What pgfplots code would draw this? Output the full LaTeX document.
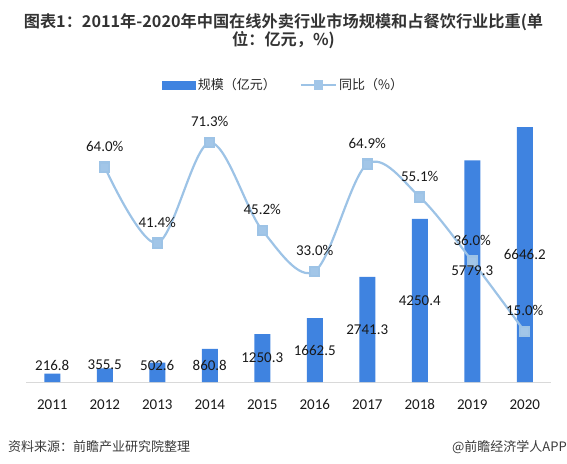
\documentclass[border=0pt]{standalone}
\usepackage{pgfplots}
\pgfplotsset{compat=1.18}
\usepackage{fontspec}
\setmainfont{Carlito}
\newfontfamily\cjk{Noto Sans CJK SC}[BoldFont={Noto Sans CJK SC Bold}]
\definecolor{barblue}{HTML}{3F83E0}
\definecolor{lineblue}{HTML}{9DC3E6}
\definecolor{markblue}{HTML}{A2C6E8}
\definecolor{titlegray}{HTML}{333333}
\definecolor{footgray}{HTML}{3A3A3A}
\definecolor{axisgray}{HTML}{D9D9D9}

\pgfplotstableread{
x y lab labpos
0 216.8 216.8 443
1 355.5 355.5 443
2 502.6 502.6 443
3 860.8 860.8 443
4 1250.3 1250.3 625
5 1662.5 1662.5 831
6 2741.3 2741.3 1370
7 4250.4 4250.4 2125
8 5779.3 5779.3 2890
9 6646.2 6646.2 3323
}\scaletable

\pgfplotstableread{
x y
1 64.0
2 41.4
3 71.3
4 45.2
5 33.0
6 64.9
7 55.1
8 36.0
9 15.0
}\growthtable

\begin{document}
\begin{tikzpicture}
\useasboundingbox (0,0) rectangle (567pt,463pt);

\begin{axis}[
  at={(26pt,81pt)}, anchor=south west, scale only axis,
  width=525pt, height=282pt,
  xmin=-0.5, xmax=9.5, ymin=0, ymax=7350,
  enlarge x limits=false,
  axis x line*=bottom, axis y line=none,
  x axis line style={draw=axisgray, line width=1pt, -},
  xtick={0,1,2,3,4,5,6,7,8,9},
  xticklabels={2011,2012,2013,2014,2015,2016,2017,2018,2019,2020},
  xtick style={draw=none},
  xticklabel style={font=\fontsize{15}{15}\selectfont, text=black!90, anchor=base, yshift=-27pt},
  ytick=\empty,
  /pgf/number format/assume math mode=true,
  clip=false,
]
\addplot[ybar, bar width=16pt, fill=barblue, draw=none] table[x=x, y=y] {\scaletable};
\end{axis}

\begin{axis}[
  at={(26pt,81pt)}, anchor=south west, scale only axis,
  width=525pt, height=282pt,
  xmin=-0.5, xmax=9.5, ymin=0, ymax=84,
  axis lines=none, clip=false,
  /pgf/number format/assume math mode=true,
  legend style={at={(0.491,1.053)}, anchor=center, draw=none, fill=none,
    legend columns=2, font=\cjk\fontsize{13}{13}\selectfont, text=black!85,
    /tikz/every even column/.append style={column sep=22pt}},
]
\addlegendimage{legend image code/.code={\fill[barblue] (0pt,-4pt) rectangle (33pt,4pt);}}
\addlegendentry{规模（亿元）}
\addplot[lineblue, line width=2.2pt, smooth, tension=0.55,
  mark=square*, mark size=4.6pt, mark options={fill=markblue, draw=none},
  nodes near coords={\pgfmathprintnumber[fixed,fixed zerofill,precision=1]{\pgfplotspointmeta}\%},
  every node near coord/.append style={anchor=center, yshift=21pt, font=\fontsize{15}{15}\selectfont, text=black!90},
  legend image code/.code={\draw[lineblue, line width=2.2pt] (0pt,0pt) -- (35pt,0pt); \fill[markblue] (14pt,-3.5pt) rectangle (21pt,3.5pt);}]
  table[x=x, y=y] {\growthtable};
\addlegendentry{同比（\%）}
\end{axis}

\begin{axis}[
  at={(26pt,81pt)}, anchor=south west, scale only axis,
  width=525pt, height=282pt,
  xmin=-0.5, xmax=9.5, ymin=0, ymax=7350,
  axis lines=none, clip=false,
]
\addplot[draw=none, mark=none, nodes near coords, point meta=explicit symbolic,
  every node near coord/.append style={anchor=center, font=\fontsize{15}{15}\selectfont, text=black!90}]
  table[x=x, y=labpos, meta=lab] {\scaletable};
\end{axis}

\node[align=center, font=\cjk\bfseries\fontsize{16.2}{18}\selectfont, text=titlegray]
  at (283.5pt,432pt) {图表1：2011年-2020年中国在线外卖行业市场规模和占餐饮行业比重(单\\位：亿元，\%)};
\node[anchor=west, font=\cjk\fontsize{13}{13}\selectfont, text=footgray, inner sep=0pt]
  at (8pt,16pt) {资料来源：前瞻产业研究院整理};
\node[anchor=east, font=\cjk\fontsize{13}{13}\selectfont, text=footgray, inner sep=0pt]
  at (567pt,16pt) {@前瞻经济学人APP};
\end{tikzpicture}
\end{document}
